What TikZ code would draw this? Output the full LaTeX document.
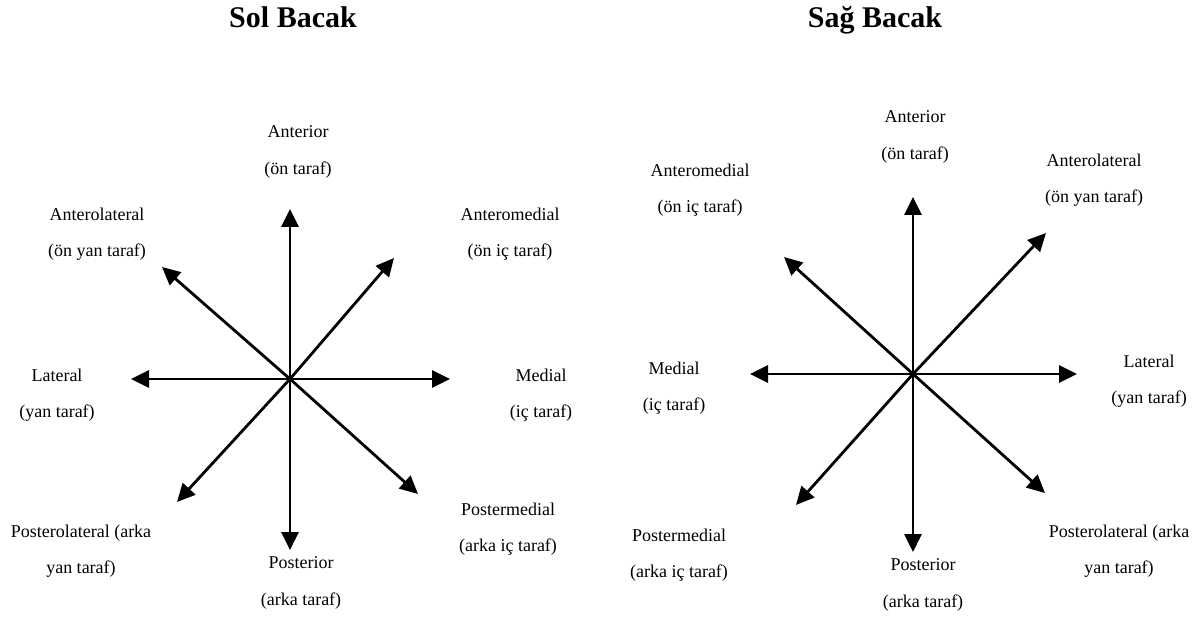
\documentclass[tikz,border=0pt]{standalone}
\usepackage{fontspec}
\setmainfont{Liberation Serif}
\usetikzlibrary{arrows.meta}
\begin{document}
\begin{tikzpicture}[x=1pt,y=-1pt,
  dirarrow/.style={line width=2.8pt,-{Triangle[length=18pt,width=17pt]}},
  lbl/.style={font=\fontsize{18}{22}\selectfont,align=center,inner sep=0pt},
  ttl/.style={font=\fontsize{30}{34}\selectfont\bfseries,inner sep=0pt,anchor=base}]
\useasboundingbox (0,0) rectangle (1194,617);
% titles
\node[ttl] (tl) at (293,28) {Sol Bacak};
\node[ttl] (tr) at (875,28) {Sağ Bacak};
% left diagram
\coordinate (L) at (290,379);
\coordinate (Lu) at (290,209);
\coordinate (Ld) at (290,550);
\coordinate (Ll) at (131,379);
\coordinate (Lr) at (450,379);
\coordinate (Lne) at (394,258);
\coordinate (Lnw) at (162,267);
\coordinate (Lsw) at (177,502);
\coordinate (Lse) at (418,494);
\foreach \t in {Lu,Ld,Ll,Lr,Lne,Lnw,Lsw,Lse} \draw[dirarrow] (L) -- (\t);
\node[lbl] (la) at (298,152) {Anterior\\[14.5pt](ön taraf)};
\node[lbl] (lal) at (97,234) {Anterolateral\\[14.5pt](ön yan taraf)};
\node[lbl] (lam) at (510,234) {Anteromedial\\[14.5pt](ön iç taraf)};
\node[lbl] (llat) at (57,395) {Lateral\\[14.5pt](yan taraf)};
\node[lbl] (lmed) at (541,395) {Medial\\[14.5pt](iç taraf)};
\node[lbl] (lpl) at (81,551) {Posterolateral (arka\\[14.5pt]yan taraf)};
\node[lbl] (lp) at (301,583) {Posterior\\[14.5pt](arka taraf)};
\node[lbl] (lpm) at (508,529) {Postermedial\\[14.5pt](arka iç taraf)};
% right diagram
\coordinate (R) at (913,374);
\coordinate (Ru) at (913,197);
\coordinate (Rd) at (913,552);
\coordinate (Rl) at (750,374);
\coordinate (Rr) at (1077,374);
\coordinate (Rne) at (1046,233);
\coordinate (Rnw) at (784,257);
\coordinate (Rsw) at (796,505);
\coordinate (Rse) at (1045,493);
\foreach \t in {Ru,Rd,Rl,Rr,Rne,Rnw,Rsw,Rse} \draw[dirarrow] (R) -- (\t);
\node[lbl] (ra) at (915,137) {Anterior\\[14.5pt](ön taraf)};
\node[lbl] (ram) at (700,190) {Anteromedial\\[14.5pt](ön iç taraf)};
\node[lbl] (ral) at (1094,180) {Anterolateral\\[14.5pt](ön yan taraf)};
\node[lbl] (rmed) at (674,388) {Medial\\[14.5pt](iç taraf)};
\node[lbl] (rlat) at (1149,381) {Lateral\\[14.5pt](yan taraf)};
\node[lbl] (rpm) at (679,555) {Postermedial\\[14.5pt](arka iç taraf)};
\node[lbl] (rp) at (923,585) {Posterior\\[14.5pt](arka taraf)};
\node[lbl] (rpl) at (1119,551) {Posterolateral (arka\\[14.5pt]yan taraf)};
\end{tikzpicture}
\end{document}
